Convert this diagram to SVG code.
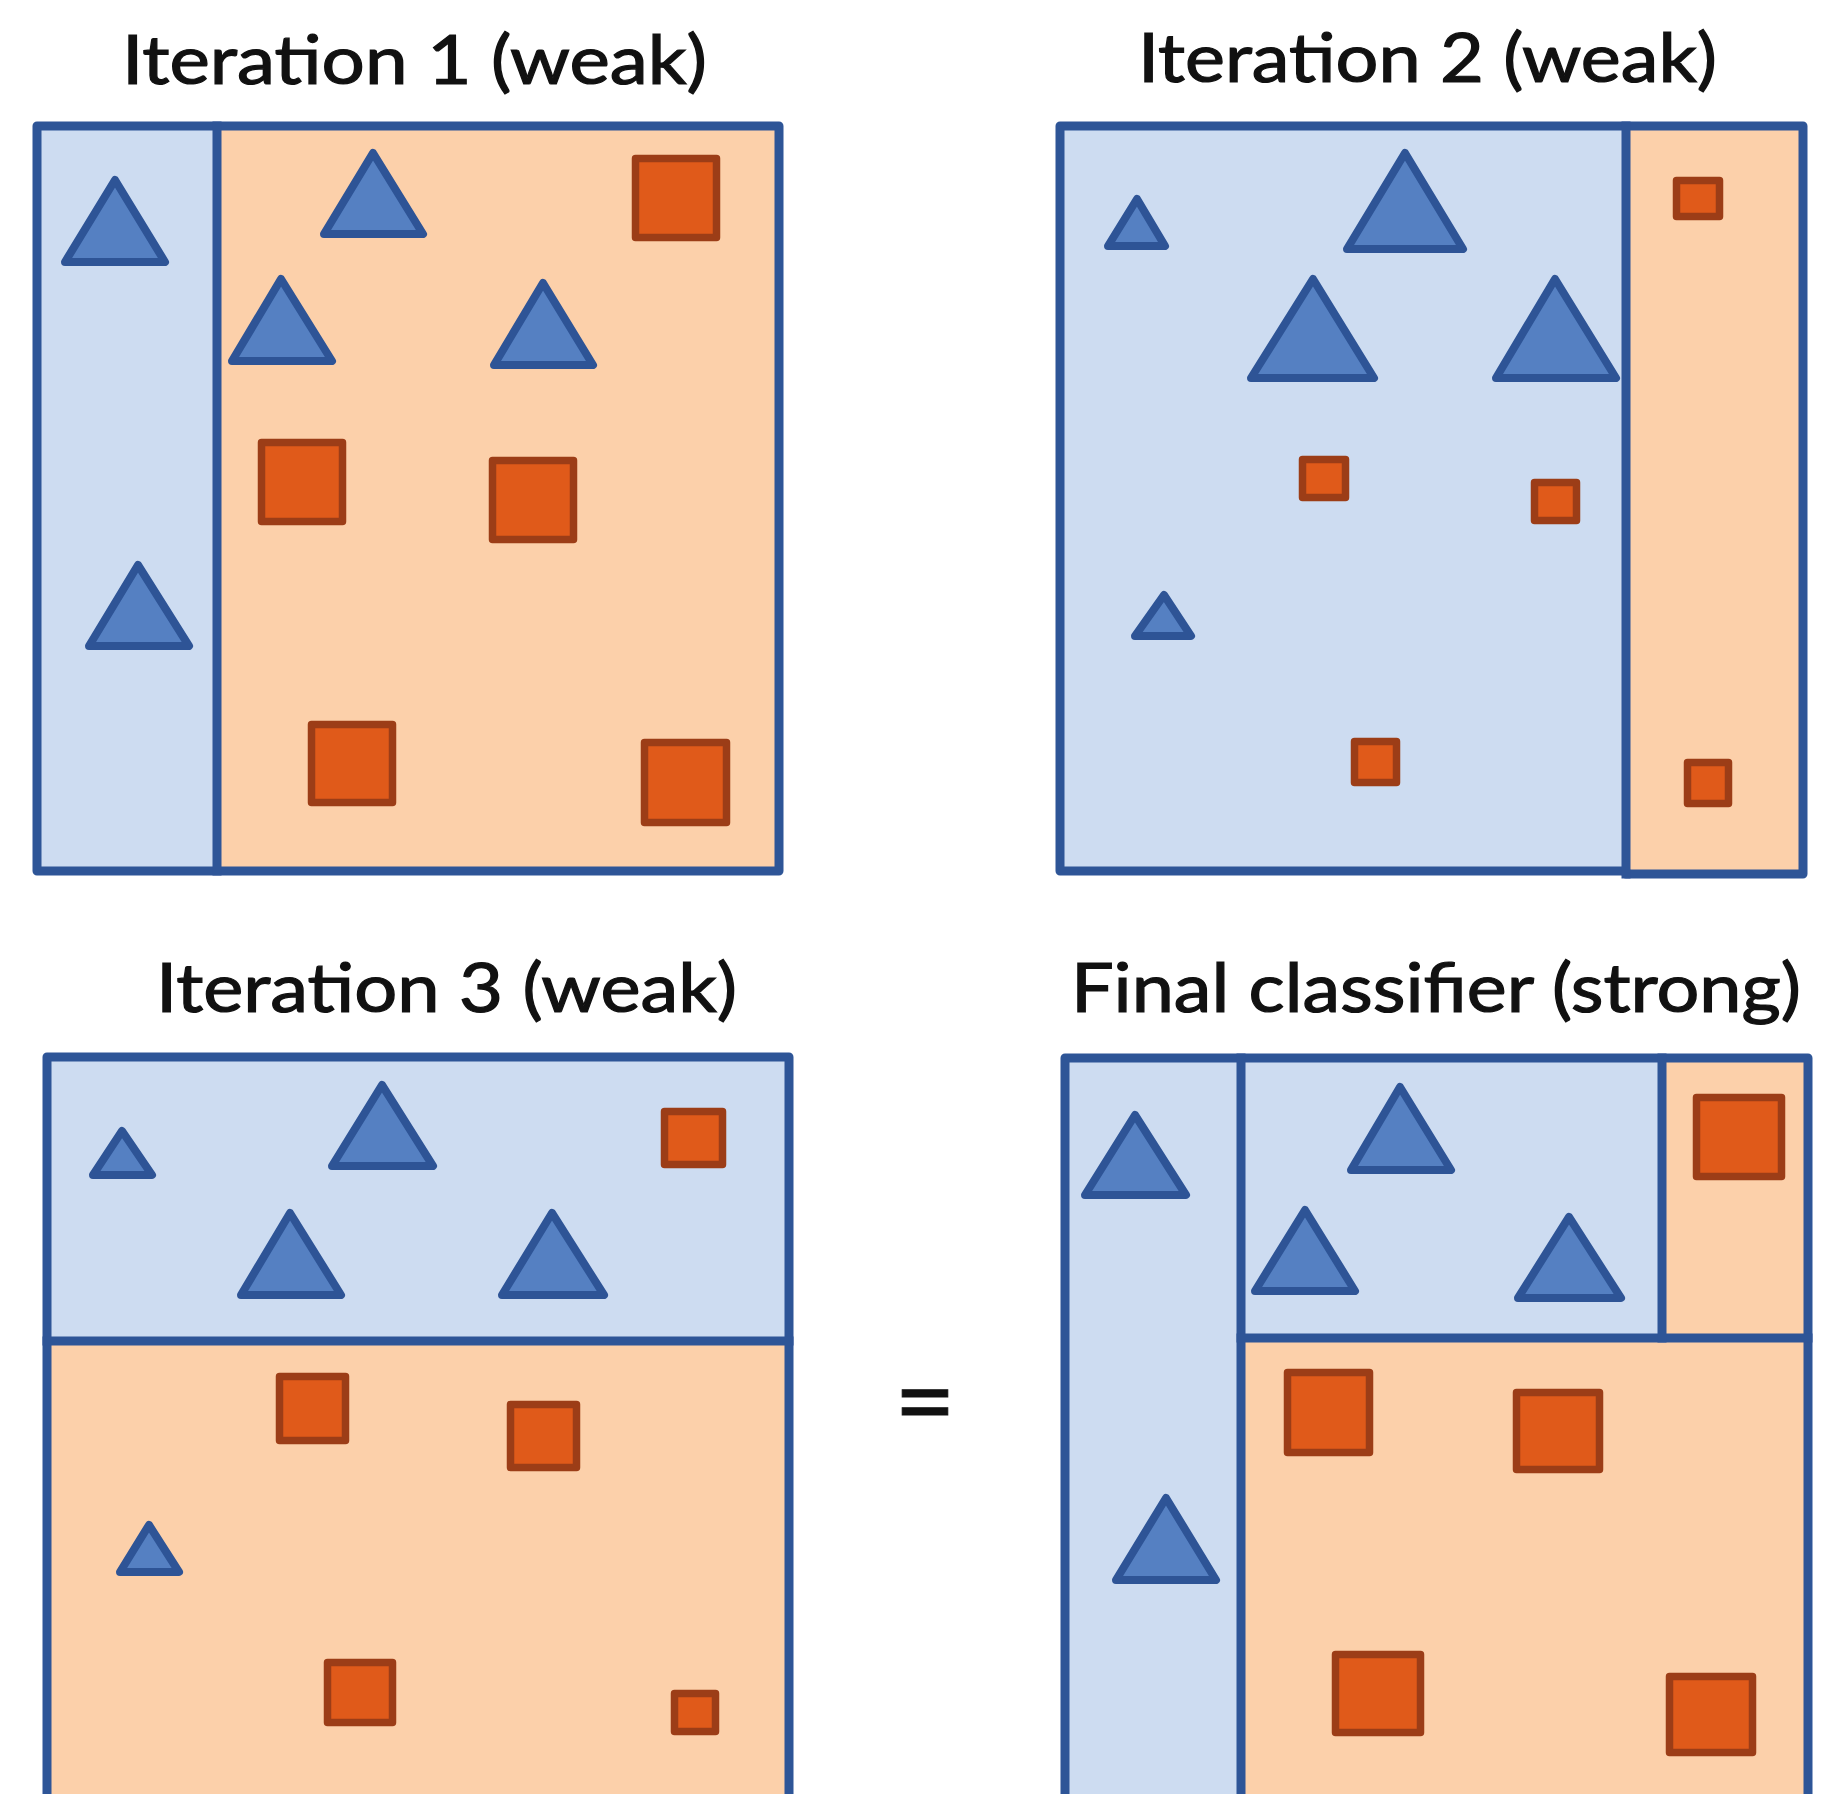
<svg xmlns="http://www.w3.org/2000/svg" width="1833" height="1794" viewBox="0 0 1833 1794">
<style>
.title{font-family:Lato,"Open Sans","Liberation Sans",sans-serif;font-size:67px;fill:#111;stroke:#111;stroke-width:1.2px;}
.pb{fill:#cddcf1;}
.po{fill:#fcd0aa;}
.ln{stroke:#2e5597;stroke-width:9;fill:none;stroke-linejoin:round;stroke-linecap:square;}
.tri{fill:#5580c2;stroke:#2e5496;stroke-width:8;stroke-linejoin:round;}
.sq{fill:#e05a1a;stroke:#9c3d17;stroke-width:7.5;stroke-linejoin:round;}
.eq{font-family:Lato,"Liberation Sans",sans-serif;font-size:106px;fill:#111;stroke:#111;stroke-width:1px;}
</style>
<rect width="1833" height="1794" fill="#fff"/>

<g id="panel1">
  <text class="title" x="122" y="84" textLength="585" lengthAdjust="spacingAndGlyphs">Iteration 1 (weak)</text>
  <rect class="pb" x="37" y="126" width="180" height="745"/>
  <rect class="po" x="217" y="126" width="562" height="745"/>
  <rect class="ln" x="37" y="126" width="742" height="745"/>
  <line class="ln" x1="217" y1="126" x2="217" y2="871"/>
  <polygon class="tri" points="115,180 165,262 65,262"/>
  <polygon class="tri" points="373,153 423,234 324,234"/>
  <polygon class="tri" points="281,279 332,361 232,361"/>
  <polygon class="tri" points="543,283 593,365 494,365"/>
  <polygon class="tri" points="138,565 189,646 89,646"/>
  <rect class="sq" x="635.5" y="158.5" width="81" height="79"/>
  <rect class="sq" x="261.5" y="442.5" width="81" height="79"/>
  <rect class="sq" x="492.5" y="460.5" width="81" height="79"/>
  <rect class="sq" x="311.5" y="724.5" width="81" height="78"/>
  <rect class="sq" x="644.5" y="742.5" width="82" height="80"/>
</g>

<g id="panel2">
  <text class="title" x="1138" y="82" textLength="579" lengthAdjust="spacingAndGlyphs">Iteration 2 (weak)</text>
  <rect class="pb" x="1060" y="126" width="566" height="745"/>
  <rect class="po" x="1626" y="126" width="177" height="748"/>
  <path class="ln" d="M1626,871 H1060 V126 H1803 V874 H1626 Z"/>
  <line class="ln" x1="1626" y1="126" x2="1626" y2="874"/>
  <polygon class="tri" points="1137,199 1165,246 1108,246"/>
  <polygon class="tri" points="1405,153 1463,249 1347,249"/>
  <polygon class="tri" points="1313,279 1374,378 1251,378"/>
  <polygon class="tri" points="1555,279 1616,378 1496,378"/>
  <polygon class="tri" points="1164,595 1191,636 1135,636"/>
  <rect class="sq" x="1676.5" y="180.5" width="43" height="36"/>
  <rect class="sq" x="1302.5" y="459.5" width="43" height="38"/>
  <rect class="sq" x="1534.5" y="482.5" width="42" height="38"/>
  <rect class="sq" x="1354.5" y="741.5" width="42" height="41"/>
  <rect class="sq" x="1687.5" y="762.5" width="41" height="41"/>
</g>

<g id="panel3">
  <text class="title" x="156" y="1012" textLength="581" lengthAdjust="spacingAndGlyphs">Iteration 3 (weak)</text>
  <rect class="pb" x="47" y="1057" width="742" height="284"/>
  <rect class="po" x="47" y="1341" width="742" height="470"/>
  <rect class="ln" x="47" y="1057" width="742" height="754"/>
  <line class="ln" x1="47" y1="1341" x2="789" y2="1341"/>
  <polygon class="tri" points="122,1131 152,1175 93,1175"/>
  <polygon class="tri" points="382,1085 433,1166 332,1166"/>
  <polygon class="tri" points="290,1213 341,1295 241,1295"/>
  <polygon class="tri" points="552,1213 604,1295 502,1295"/>
  <polygon class="tri" points="149,1525 179,1572 120,1572"/>
  <rect class="sq" x="664.5" y="1111.5" width="58" height="53"/>
  <rect class="sq" x="279.5" y="1376.5" width="66" height="64"/>
  <rect class="sq" x="510.5" y="1404.5" width="66" height="63"/>
  <rect class="sq" x="327.5" y="1662.5" width="65" height="60"/>
  <rect class="sq" x="674.5" y="1693.5" width="41" height="38"/>
</g>

<g id="panel4">
  <text class="title" x="1071" y="1012" textLength="730" lengthAdjust="spacingAndGlyphs">Final classifier (strong)</text>
  <rect class="pb" x="1065" y="1058" width="176" height="753"/>
  <rect class="pb" x="1241" y="1058" width="421" height="280"/>
  <rect class="po" x="1662" y="1058" width="146" height="280"/>
  <rect class="po" x="1241" y="1338" width="567" height="473"/>
  <rect class="ln" x="1065" y="1058" width="743" height="753"/>
  <line class="ln" x1="1241" y1="1058" x2="1241" y2="1811"/>
  <line class="ln" x1="1241" y1="1338" x2="1808" y2="1338"/>
  <line class="ln" x1="1662" y1="1058" x2="1662" y2="1338"/>
  <polygon class="tri" points="1135,1115 1186,1195 1085,1195"/>
  <polygon class="tri" points="1166,1498 1216,1580 1116,1580"/>
  <polygon class="tri" points="1400,1087 1451,1170 1351,1170"/>
  <polygon class="tri" points="1305,1210 1355,1291 1255,1291"/>
  <polygon class="tri" points="1569,1217 1621,1298 1518,1298"/>
  <rect class="sq" x="1696.5" y="1097.5" width="85" height="79"/>
  <rect class="sq" x="1287.5" y="1372.5" width="82" height="80"/>
  <rect class="sq" x="1516.5" y="1392.5" width="83" height="77"/>
  <rect class="sq" x="1335.5" y="1654.5" width="85" height="78"/>
  <rect class="sq" x="1669.5" y="1676.5" width="83" height="76"/>
</g>

<g id="equals">
  <text class="eq" x="925" y="1438" text-anchor="middle">=</text>
</g>
<g id="connectors"></g>
</svg>
